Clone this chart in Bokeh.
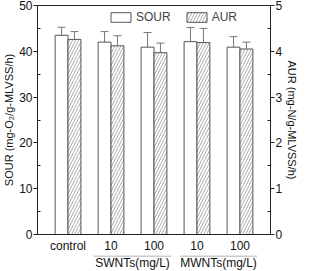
from bokeh.plotting import figure
from bokeh.layouts import column
from bokeh.models import (Range1d, LinearAxis, FixedTicker, Whisker, ColumnDataSource,
                          Legend, LegendItem)
from bokeh.core.properties import value
from bokeh.embed import file_html
from bokeh.resources import INLINE

categories = ["control", "10", "100", "10", "100"]
groups = ["SWNTs(mg/L)", "MWNTs(mg/L)"]
group_members = [[2, 3], [4, 5]]
x_pos = [1, 2, 3, 4, 5]
sour = [43.5, 42.0, 40.9, 42.1, 40.9]
sour_err = [1.75, 2.3, 3.2, 3.1, 2.3]
aur = [4.26, 4.12, 3.97, 4.19, 4.05]
aur_err = [0.17, 0.22, 0.21, 0.31, 0.15]

FONT = "Liberation Sans"
bw = 0.3
BL, BR = 31, 30  # shared side borders so both panels line up

xr = Range1d(0.29, 5.71)
p = figure(width=301, height=255, output_backend="svg", toolbar_location=None,
           x_range=xr, y_range=Range1d(0, 50),
           min_border_left=BL, min_border_right=BR, min_border_top=5, min_border_bottom=19)
p.extra_y_ranges = {"aur": Range1d(0, 5)}
p.grid.visible = False
p.outline_line_color = "#222222"

xs_sour = [x - bw / 2 for x in x_pos]
xs_aur = [x + bw / 2 for x in x_pos]
src_s = ColumnDataSource(dict(x=xs_sour, top=sour, lo=[v - e for v, e in zip(sour, sour_err)],
                              hi=[v + e for v, e in zip(sour, sour_err)]))
src_a = ColumnDataSource(dict(x=xs_aur, top=aur, lo=[v - e for v, e in zip(aur, aur_err)],
                              hi=[v + e for v, e in zip(aur, aur_err)]))

r_s = p.vbar(x="x", top="top", bottom=0, width=bw, source=src_s, fill_color="white",
             line_color="#555555", line_width=1)
r_a = p.vbar(x="x", top="top", bottom=0, width=bw, source=src_a, fill_color="white",
             line_color="#555555", line_width=1, hatch_pattern="/", hatch_color="#888888",
             hatch_scale=6, hatch_weight=0.7, y_range_name="aur")

for src, rn in ((src_s, "default"), (src_a, "aur")):
    w = Whisker(base="x", upper="hi", lower="lo", source=src, line_color="#777777",
                line_width=1, y_range_name=rn)
    w.upper_head.size = 8
    w.lower_head.size = 8
    w.upper_head.line_color = "#777777"
    w.lower_head.line_color = "#777777"
    p.add_layout(w)

def style_y(ax):
    ax.major_label_text_font = FONT
    ax.major_label_text_font_size = "12px"
    ax.major_label_text_color = "#111111"
    ax.axis_label_text_font = FONT
    ax.axis_label_text_font_size = "11px"
    ax.axis_label_text_font_style = "normal"
    ax.axis_label_text_color = "#111111"
    ax.major_tick_in = 0
    ax.major_tick_out = 4
    ax.minor_tick_in = 3
    ax.minor_tick_out = 0
    ax.axis_line_color = "#222222"
    ax.major_tick_line_color = "#222222"
    ax.minor_tick_line_color = "#222222"
    ax.major_label_standoff = 1
    ax.axis_label_standoff = 1

ly = p.yaxis[0]
ly.ticker = FixedTicker(ticks=[0, 10, 20, 30, 40, 50], minor_ticks=[5, 15, 25, 35, 45])
ly.axis_label = "SOUR (mg-O\u2082/g-MLVSS/h)"
style_y(ly)

ry = LinearAxis(y_range_name="aur", axis_label="AUR (mg-N/g-MLVSS/h)",
                ticker=FixedTicker(ticks=[0, 1, 2, 3, 4, 5], minor_ticks=[0.5, 1.5, 2.5, 3.5, 4.5]))
style_y(ry)
ry.axis_label_orientation = "vertical"
p.add_layout(ry, "right")

xa = p.xaxis[0]
xa.ticker = FixedTicker(ticks=x_pos)
xa.major_label_overrides = {x: c for x, c in zip(x_pos, categories)}
xa.major_tick_line_color = None
xa.minor_tick_line_color = None
xa.major_tick_out = 0
xa.minor_tick_out = 0
xa.major_tick_in = 0
xa.minor_tick_in = 0
xa.axis_label_standoff = 0
xa.axis_line_color = "#222222"
xa.major_label_text_font = FONT
xa.major_label_text_font_size = "12px"
xa.major_label_text_color = "#111111"
xa.major_label_standoff = 4

legend = Legend(items=[LegendItem(label="SOUR", renderers=[r_s]),
                       LegendItem(label="AUR", renderers=[r_a])],
                orientation="horizontal", location=(71, 210),
                border_line_alpha=0, background_fill_alpha=0,
                label_text_font=FONT, label_text_font_size="12px",
                glyph_width=25, glyph_height=12, label_standoff=3, spacing=13,
                padding=0, margin=0)
p.add_layout(legend)

# group strip below the main panel (y in pixels from its bottom)
p2 = figure(width=301, height=16, output_backend="svg", toolbar_location=None,
            x_range=xr, y_range=Range1d(0, 16),
            min_border_left=BL, min_border_right=BR, min_border_top=0, min_border_bottom=0)
p2.axis.visible = False
p2.grid.visible = False
p2.outline_line_color = None
gx = [sum(m) / len(m) for m in group_members]
p2.text(x=gx, y=[8.5] * len(gx), text=groups, text_align="center", text_baseline="middle",
        text_font=value(FONT), text_font_size="12px", text_color="#111111")
p2.segment(x0=[c - 0.9 for c in gx], x1=[c + 0.9 for c in gx], y0=[15.5] * len(gx),
           y1=[15.5] * len(gx), line_color="#999999", line_width=1)

layout = column(p, p2, spacing=0)
open("out.html", "w").write(file_html(layout, INLINE))
